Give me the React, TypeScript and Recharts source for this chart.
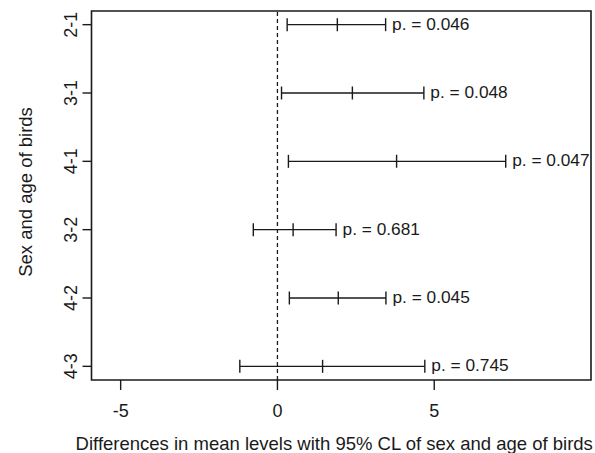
import React from 'react';
import {
  ScatterChart,
  Scatter,
  XAxis,
  YAxis,
  ErrorBar,
  ReferenceLine,
  ReferenceArea,
  LabelList
} from 'recharts';

// comparisons, top to bottom
const comparisons = ['2-1', '3-1', '4-1', '3-2', '4-2', '4-3'];
const diffs = [1.91, 2.39, 3.8, 0.5, 1.94, 1.44];
const lowers = [0.31, 0.13, 0.35, -0.77, 0.38, -1.2];
const uppers = [3.45, 4.67, 7.28, 1.87, 3.46, 4.7];
const pValues = ['0.046', '0.048', '0.047', '0.681', '0.045', '0.745'];
const xTicks = [-5, 0, 5];

const X_DOMAIN: [number, number] = [-5.93, 10.0];
const Y_DOMAIN: [number, number] = [0.8, 6.2];
const FONT = '"Liberation Sans", Arial, sans-serif';
const INK = '#1a1a1a';

const n = comparisons.length;
const points = comparisons.map((name, i) => ({
  name,
  x: diffs[i],
  y: n - i,
  err: [diffs[i] - lowers[i], uppers[i] - diffs[i]]
}));
const labelPoints = comparisons.map((name, i) => ({
  name,
  x: uppers[i],
  y: n - i,
  p: `p. = ${pValues[i]}`
}));

const MidTick = (props: any) => {
  const { cx, cy } = props;
  return <line x1={cx} x2={cx} y1={cy - 6.5} y2={cy + 6.5} stroke={INK} strokeWidth={1.4} />;
};

const NoShape = () => <g />;

const YTick = (props: any) => {
  const { x, y, payload } = props;
  const label = comparisons[n - payload.value];
  const tx = x - 3.5;
  return (
    <text
      x={tx}
      y={y}
      transform={`rotate(-90, ${tx}, ${y})`}
      textAnchor="middle"
      fontSize={18}
      fontFamily={FONT}
      fill={INK}
    >
      {label}
    </text>
  );
};

const PLabel = (props: any) => {
  const { viewBox, value } = props;
  const cx = viewBox.x + viewBox.width / 2;
  const cy = viewBox.y + viewBox.height / 2;
  return (
    <text x={cx + 6.5} y={cy + 5} fontSize={17.3} fontFamily={FONT} fill={INK}>
      {value}
    </text>
  );
};

const XTitle = (props: any) => {
  const { viewBox } = props;
  return (
    <text
      x={viewBox.x + viewBox.width / 2 - 7}
      y={450}
      textAnchor="middle"
      fontSize={18.5}
      fontFamily={FONT}
      fill={INK}
    >
      Differences in mean levels with 95% CL of sex and age of birds
    </text>
  );
};

const YTitle = () => (
  <text
    x={31.5}
    y={192}
    transform="rotate(-90, 31.5, 192)"
    textAnchor="middle"
    fontSize={18.5}
    fontFamily={FONT}
    fill={INK}
  >
    Sex and age of birds
  </text>
);

export default function App() {
  return (
    <div style={{ position: 'absolute', left: 0, top: 0, background: '#fff' }}>
      <ScatterChart
        width={595}
        height={453}
        margin={{ top: 11, right: 4, bottom: 0, left: 0 }}
      >
        <XAxis
          type="number"
          dataKey="x"
          domain={X_DOMAIN}
          ticks={xTicks}
          allowDataOverflow
          height={73}
          axisLine={false}
          tickSize={10}
          tickMargin={14}
          tickLine={{ stroke: INK, strokeWidth: 1.4 }}
          tick={{ fill: INK, fontSize: 18, fontFamily: FONT }}
          label={<XTitle />}
        />
        <YAxis
          type="number"
          dataKey="y"
          domain={Y_DOMAIN}
          ticks={[1, 2, 3, 4, 5, 6]}
          allowDataOverflow
          width={91.5}
          axisLine={false}
          tickSize={9}
          tickLine={{ stroke: INK, strokeWidth: 1.4 }}
          tick={<YTick />}
          label={<YTitle />}
        />
        <ReferenceArea
          x1={X_DOMAIN[0]}
          x2={X_DOMAIN[1]}
          y1={Y_DOMAIN[0]}
          y2={Y_DOMAIN[1]}
          fill="none"
          stroke={INK}
          strokeWidth={1.6}
          fillOpacity={0}
        />
        <ReferenceLine x={0} stroke={INK} strokeWidth={1.3} strokeDasharray="4 3" />
        <Scatter data={points} shape={<MidTick />} isAnimationActive={false}>
          <ErrorBar
            dataKey="err"
            direction="x"
            width={6.5}
            stroke={INK}
            strokeWidth={1.4}
            isAnimationActive={false}
          />
        </Scatter>
        <Scatter data={labelPoints} shape={<NoShape />} isAnimationActive={false}>
          <LabelList dataKey="p" content={<PLabel />} />
        </Scatter>
      </ScatterChart>
    </div>
  );
}
